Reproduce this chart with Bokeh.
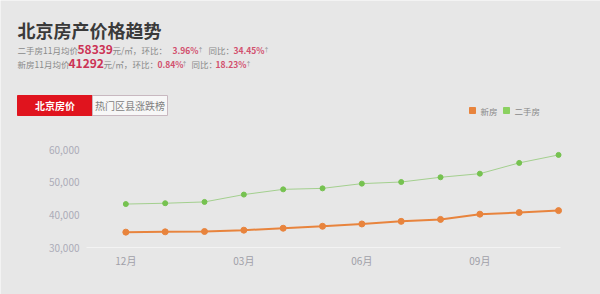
from bokeh.plotting import figure
from bokeh.models import Label, Range1d
from bokeh.core.properties import value
from bokeh.embed import file_html
from bokeh.resources import INLINE

months = ["12月", "01月", "02月", "03月", "04月", "05月", "06月", "07月", "08月", "09月", "10月", "11月"]
new_home = [34700, 34800, 34900, 35300, 35900, 36500, 37200, 38000, 38600, 40200, 40700, 41292]
second_hand = [43300, 43550, 43950, 46200, 47800, 48100, 49550, 50050, 51500, 52600, 55900, 58339]
y_ticks = [30000, 40000, 50000, 60000]
x_tick_idx = [0, 3, 6, 9]

W, H = 600, 294
FONT = "Noto Sans CJK SC"
BG = "#e7e7e7"

# plot area in pixels (from top-left of the page)
PL, PR, PT, PB = 86, 560, 149, 247
X0, X1 = -1, len(months) - 1 + 0.05
Y0, Y1 = y_ticks[0], y_ticks[-1]
ppx = (PR - PL) / (X1 - X0)
ppy = (PB - PT) / (Y1 - Y0)
xs_start = X0 - PL / ppx
ys_end = Y1 + PT / ppy

def dx(px):
    return xs_start + px / ppx

def dy(py):
    return ys_end - py / ppy

xs = list(range(len(months)))

p = figure(width=W, height=H, output_backend="svg", toolbar_location=None,
           x_range=Range1d(dx(0), dx(W)), y_range=Range1d(dy(H), dy(0)),
           x_axis_location=None, y_axis_location=None, min_border=0)
p.background_fill_color = BG
p.border_fill_color = BG
p.outline_line_color = None
p.grid.grid_line_color = None

# axis baseline
p.segment(x0=[X0], y0=[Y0], x1=[X1], y1=[Y0], line_color="#f3f3f3", line_width=1)

# axis tick labels
p.text(x=[X0] * len(y_ticks), y=y_ticks, text=[f"{v:,}" for v in y_ticks],
       x_offset=-7, text_align="right", text_baseline="middle",
       text_font=value(FONT), text_font_size="10px", text_color="#acacb8")
p.text(x=x_tick_idx, y=[Y0] * len(x_tick_idx), text=[months[i] for i in x_tick_idx],
       y_offset=5, text_align="center", text_baseline="top",
       text_font=value(FONT), text_font_size="10px", text_color="#a0a0a8")

# series
p.line(xs, second_hand, line_color="#a3cf8e", line_width=1)
p.scatter(xs, second_hand, size=5, fill_color="#76c250", line_color="#76c250")
p.line(xs, new_home, line_color="#e8843d", line_width=2)
p.scatter(xs, new_home, size=6, fill_color="#e8843d", line_color="#e8843d")


def lab(x, y, text, size, color, bold=False, align="left"):
    p.add_layout(Label(x=dx(x), y=dy(y), text=text, text_font=FONT, text_font_size=f"{size}px",
                       text_color=color, text_font_style="bold" if bold else "normal",
                       text_baseline="middle", text_align=align))


def box(x0, y0, x1, y1, fill, line):
    p.quad(left=[dx(x0)], right=[dx(x1)], top=[dy(y0)], bottom=[dy(y1)],
           fill_color=fill, line_color=line, line_width=1)


# title
lab(17, 29, "北京房产价格趋势", 18, "#3a3a3a", bold=True)

GRAY = "#8a8a8a"
RED = "#cc3355"
PINK = "#d2506e"
# line 1
y1 = 49
lab(17, y1, "二手房11月均价", 8.5, GRAY)
lab(77, y1, "58339", 12, RED, bold=True)
lab(112, y1, "元/㎡，", 8.5, GRAY)
lab(141, y1, "环比：", 8.5, GRAY)
lab(172, y1, "3.96%", 8.5, PINK, bold=True)
lab(197, y1, "↑", 6, GRAY)
lab(208, y1, "同比：", 8.5, GRAY)
lab(233, y1, "34.45%", 8.5, PINK, bold=True)
lab(263, y1, "↑", 6, GRAY)
# line 2
y2 = 63
lab(17, y2, "新房11月均价", 8.5, GRAY)
lab(68, y2, "41292", 12, RED, bold=True)
lab(103, y2, "元/㎡，", 8.5, GRAY)
lab(132, y2, "环比：", 8.5, GRAY)
lab(157, y2, "0.84%", 8.5, PINK, bold=True)
lab(181, y2, "↑", 6, GRAY)
lab(191, y2, "同比：", 8.5, GRAY)
lab(215, y2, "18.23%", 8.5, PINK, bold=True)
lab(245, y2, "↑", 6, GRAY)

# tabs
box(17, 95, 92, 115, "#e0141e", "#e0141e")
box(92, 95, 167, 115, "#f7f7f7", "#c8b8c0")
lab(54.5, 105, "北京房价", 10, "#ffffff", bold=True, align="center")
lab(129.5, 105, "热门区县涨跌榜", 10, "#808080", align="center")

# legend
box(469, 107, 475, 113, "#e8843d", "#e8843d")
lab(480, 110, "新房", 8.5, GRAY)
box(503, 107, 509, 113, "#8bd160", "#8bd160")
lab(514, 110, "二手房", 8.5, GRAY)

open("out.html", "w").write(file_html(p, INLINE))
